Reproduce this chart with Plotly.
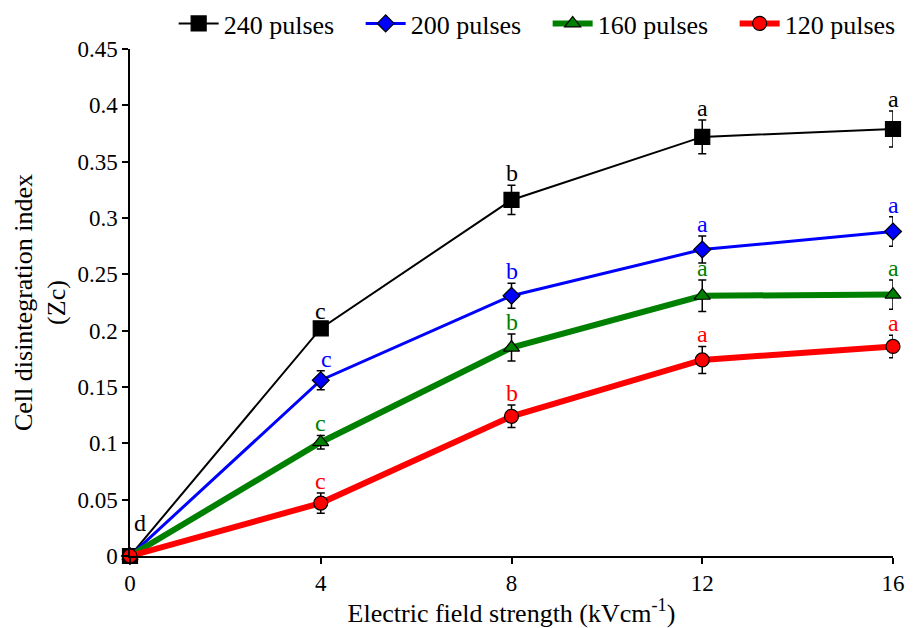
import plotly.graph_objects as go

# Electric field strength (kV/cm)
field = [0, 4, 8, 12, 16]

# Cell disintegration index (Zc) per pulse count, with standard errors
zc_240 = [0.0, 0.202, 0.316, 0.372, 0.379]
err_240 = [0.003, 0.005, 0.013, 0.015, 0.016]
zc_200 = [0.0, 0.156, 0.231, 0.272, 0.288]
err_200 = [0.003, 0.0085, 0.011, 0.012, 0.013]
zc_160 = [0.0, 0.101, 0.185, 0.231, 0.232]
err_160 = [0.003, 0.006, 0.012, 0.014, 0.013]
zc_120 = [0.0, 0.047, 0.124, 0.174, 0.186]
err_120 = [0.003, 0.009, 0.010, 0.012, 0.010]

# Significance letters
letters_240 = ["d", "c", "b", "a", "a"]
letters_200 = ["", "c", "b", "a", "a"]
letters_160 = ["", "c", "b", "a", "a"]
letters_120 = ["", "c", "b", "a", "a"]

FONT = "Liberation Serif"

series = [
    ("240 pulses", zc_240, err_240, letters_240, "black", "black", 2, "square", 15),
    ("200 pulses", zc_200, err_200, letters_200, "blue", "blue", 3, "diamond", 13),
    ("160 pulses", zc_160, err_160, letters_160, "green", "green", 6, "triangle-up", 14),
    ("120 pulses", zc_120, err_120, letters_120, "red", "red", 6, "circle", 14),
]

fig = go.Figure()
for name, y, e, letters, color, fill, lw, sym, size in series:
    fig.add_trace(go.Scatter(
        x=field, y=y, name=name, mode="lines+markers",
        line=dict(color=color, width=lw),
        marker=dict(symbol=sym, size=size, color=fill,
                    line=dict(color="black", width=1.2)),
        error_y=dict(type="data", array=e, visible=True,
                     color="black", thickness=1.5, width=4),
        cliponaxis=False,
    ))
    for xi, yi, ei, lt in zip(field, y, e, letters):
        if not lt:
            continue
        xshift, yshift = 0, -3
        if name == "200 pulses" and xi == 4:
            xshift = 6
        if lt == "d":
            xshift, yshift = 10, 15
        fig.add_annotation(
            x=xi, y=yi + ei, text=lt, showarrow=False,
            yanchor="bottom", xshift=xshift, yshift=yshift,
            font=dict(family=FONT, size=24, color=color),
        )

fig.update_layout(
    width=914, height=628,
    margin=dict(l=130, r=21, t=49, b=72, autoexpand=False),
    paper_bgcolor="white", plot_bgcolor="white",
    font=dict(family=FONT, size=23, color="black"),
    showlegend=True,
    legend=dict(orientation="h", xref="container", yref="container",
                x=0.19, xanchor="left", y=1.0, yanchor="top",
                font=dict(family=FONT, size=26), itemwidth=40,
                entrywidth=132, entrywidthmode="pixels",
                bgcolor="rgba(0,0,0,0)", tracegroupgap=0),
    xaxis=dict(
        range=[0, 16], tickvals=field, ticktext=[str(v) for v in field],
        showline=True, linecolor="black", linewidth=1.5,
        ticks="outside", ticklen=6, tickwidth=1.5, tickcolor="black",
        showgrid=False, zeroline=False,
        tickfont=dict(family=FONT, size=23),
        title=dict(text="Electric field strength (kVcm<sup>-1</sup>)",
                   font=dict(family=FONT, size=26), standoff=0),
    ),
    yaxis=dict(
        range=[0, 0.45],
        tickvals=[0, 0.05, 0.1, 0.15, 0.2, 0.25, 0.3, 0.35, 0.4, 0.45],
        ticktext=["0", "0.05", "0.1", "0.15", "0.2", "0.25", "0.3", "0.35", "0.4", "0.45"],
        showline=True, linecolor="black", linewidth=1.5,
        ticks="outside", ticklen=6, tickwidth=1.5, tickcolor="black",
        showgrid=False, zeroline=False,
        tickfont=dict(family=FONT, size=23),
        title=dict(text="Cell disintegration index<br>(Zc)",
                   font=dict(family=FONT, size=26), standoff=4),
    ),
)

fig.write_html("out.html")
